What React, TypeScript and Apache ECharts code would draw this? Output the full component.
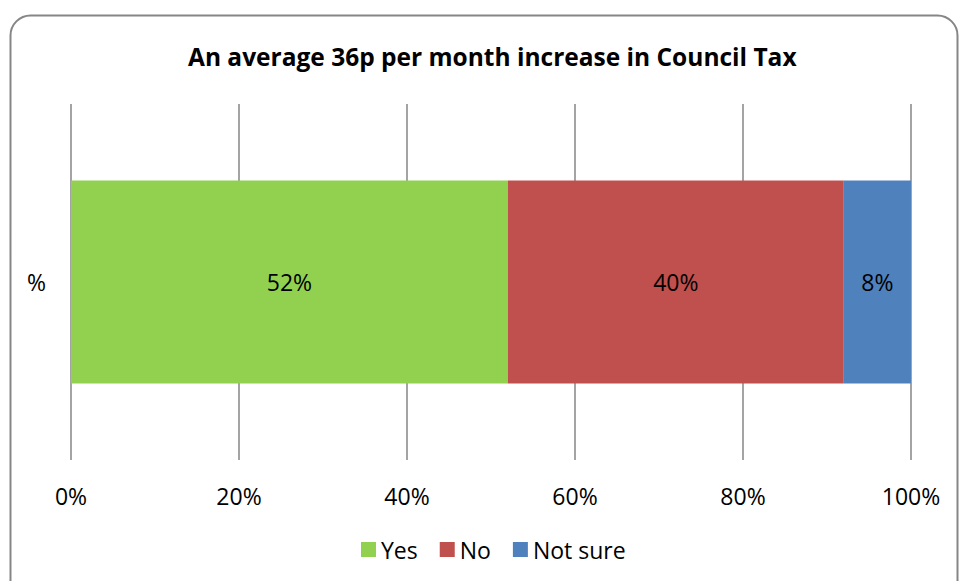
import React, { useEffect, useRef } from "react";
import * as echarts from "echarts";

const categories = ["%"];
const seriesNames = ["Yes", "No", "Not sure"];
const yesValues = [52];
const noValues = [40];
const notSureValues = [8];
const colors = ["#92D050", "#C0504D", "#4F81BD"];
const xTicks = [0, 20, 40, 60, 80, 100];

const FONT = "'Open Sans', 'Liberation Sans', Arial, sans-serif";
const LABEL_SIZE = 23;

export default function App() {
  const ref = useRef<HTMLDivElement>(null);
  useEffect(() => {
    if (!ref.current) return;
    const chart = echarts.init(ref.current, null, { renderer: "svg" });
    const values = [yesValues, noValues, notSureValues];
    chart.setOption({
      animation: false,
      backgroundColor: "#ffffff",
      title: {
        text: "An average 36p per month increase in Council Tax",
        left: 183,
        top: 36,
        padding: 5,
        textStyle: {
          fontFamily: FONT,
          fontSize: 24.5,
          fontWeight: "bold",
          color: "#000",
          lineHeight: 30,
        },
      },
      graphic: [
        {
          type: "rect",
          shape: { x: 10.5, y: 15.5, width: 947, height: 590, r: 20 },
          style: { fill: "none", stroke: "#868686", lineWidth: 2 },
          silent: true,
          z: -1,
        },
      ],
      legend: {
        bottom: 15,
        left: 356,
        itemWidth: 15,
        itemHeight: 15,
        itemGap: 22,
        icon: "rect",
        textStyle: {
          fontFamily: FONT,
          fontSize: LABEL_SIZE,
          color: "#000",
          padding: [0, 0, 0, 0],
        },
        data: seriesNames,
      },
      grid: { left: 71, right: 49, top: 104, bottom: 121 },
      xAxis: {
        type: "value",
        min: xTicks[0],
        max: xTicks[xTicks.length - 1],
        interval: 20,
        axisLine: { show: false },
        axisTick: { show: false },
        splitLine: { show: true, lineStyle: { color: "#868686", width: 1.5 } },
        axisLabel: {
          formatter: "{value}%",
          fontFamily: FONT,
          fontSize: LABEL_SIZE,
          color: "#000",
          margin: 24,
        },
      },
      yAxis: {
        type: "category",
        data: categories,
        axisLine: { show: false },
        axisTick: { show: false },
        axisLabel: { fontFamily: FONT, fontSize: LABEL_SIZE, color: "#000", margin: 25 },
      },
      series: seriesNames.map((name, i) => ({
        name,
        type: "bar",
        stack: "total",
        data: values[i],
        barWidth: "57%",
        itemStyle: { color: colors[i] },
        label: {
          show: true,
          position: "inside",
          formatter: "{c}%",
          fontFamily: FONT,
          fontSize: LABEL_SIZE,
          color: "#000",
        },
      })),
    });
    return () => chart.dispose();
  }, []);
  return <div ref={ref} style={{ width: 960, height: 581, position: "absolute", left: 0, top: 0 }} />;
}
